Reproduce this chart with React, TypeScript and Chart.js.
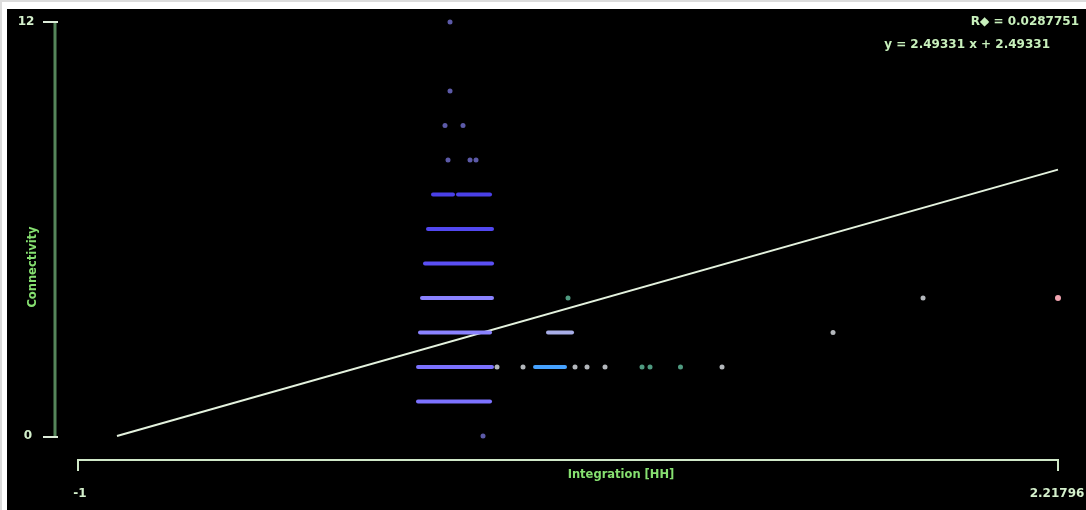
import React, { useEffect, useRef } from "react";
import { Chart, registerables } from "chart.js";

Chart.register(...registerables);

// ---- data ----
const xMin = -1;
const xMax = 2.21796;
const yMin = 0;
const yMax = 12;
const xTickLabels = ["-1", "2.21796"];
const yTickLabels = ["0", "12"];
const xTitle = "Integration [HH]";
const yTitle = "Connectivity";
const rSquaredText = "R\u25C6 = 0.0287751";
const equationText = "y = 2.49331 x + 2.49331";

// dense horizontal runs of overlapping points (one run per entry)
const stripeRow = [1, 2, 3, 4, 5, 6, 7, 7, 3, 2];
const stripeFrom = [0.1165, 0.1165, 0.1231, 0.1296, 0.1395, 0.1493, 0.1657, 0.2478, 0.5434, 0.5007];
const stripeTo = [0.3529, 0.3595, 0.3529, 0.3595, 0.3595, 0.3595, 0.2314, 0.3529, 0.6222, 0.5992];

// isolated points
const upperX = [0.2216, 0.2216, 0.2051, 0.2642, 0.215, 0.2872, 0.3069, 0.3299];
const upperY = [12, 10, 9, 9, 8, 8, 8, 0];
const grayX = [0.3759, 0.4613, 0.632, 0.6714, 0.7305, 1.1147, 1.4792, 1.7748];
const grayY = [2, 2, 2, 2, 2, 2, 3, 4];
const tealX = [0.852, 0.8783, 0.9783, 0.609];
const tealY = [2, 2, 2, 4];
const redX = [2.21796];
const redY = [4];

// fitted line as drawn
const regX = [-0.872, 2.21796];
const regY = [0, 7.72];

// ---- styles ----
const stripeColors = [
  "#7c72ff", "#7c72ff", "#8a82ff", "#8a82ff", "#5a4ff5", "#5248f0", "#4a40e8", "#4a40e8", "#a8aee8", "#46a2ff",
];

const pts = (xs: number[], ys: number[]) => xs.map((x, i) => ({ x, y: ys[i] }));

export default function App() {
  const ref = useRef<HTMLCanvasElement>(null);

  useEffect(() => {
    if (!ref.current) return;
    const stripeSets = stripeRow.map((r, i) => ({
      label: "run" + i,
      data: [
        { x: stripeFrom[i], y: r },
        { x: stripeTo[i], y: r },
      ],
      showLine: true,
      borderColor: stripeColors[i],
      borderWidth: 4,
      borderCapStyle: "round" as const,
      pointRadius: 0,
      clip: false as any,
    }));

    const axesPlugin = {
      id: "customAxes",
      afterDraw(chart: any) {
        const { ctx } = chart;
        const xs = chart.scales.x;
        const ys = chart.scales.y;
        const y0 = ys.getPixelForValue(yMin);
        const y12 = ys.getPixelForValue(yMax);
        const x0 = xs.getPixelForValue(xMin);
        const x1 = xs.getPixelForValue(xMax);
        ctx.save();
        // y axis
        ctx.strokeStyle = "#55855a";
        ctx.lineWidth = 3;
        ctx.beginPath();
        ctx.moveTo(48, y12);
        ctx.lineTo(48, y0);
        ctx.stroke();
        ctx.strokeStyle = "#dcebd8";
        ctx.lineWidth = 2;
        ctx.beginPath();
        ctx.moveTo(36, y12);
        ctx.lineTo(51, y12);
        ctx.moveTo(36, y0 + 1);
        ctx.lineTo(51, y0 + 1);
        ctx.stroke();
        // x axis
        const ax = 451;
        ctx.strokeStyle = "#d0e8c8";
        ctx.lineWidth = 2;
        ctx.beginPath();
        ctx.moveTo(x0, ax + 11);
        ctx.lineTo(x0, ax);
        ctx.lineTo(x1, ax);
        ctx.lineTo(x1, ax + 11);
        ctx.stroke();
        // labels
        ctx.font = "bold 12px 'DejaVu Sans'";
        ctx.fillStyle = "#d4f0cc";
        ctx.textBaseline = "middle";
        ctx.textAlign = "center";
        ctx.fillText(yTickLabels[1], 19, y12);
        ctx.fillText(yTickLabels[0], 21, y0);
        ctx.fillText(xTickLabels[0], x0 + 2, 485);
        ctx.fillText(xTickLabels[1], x1 - 1, 485);
        // titles
        ctx.fillStyle = "#86e070";
        ctx.font = "bold 11.5px 'DejaVu Sans'";
        ctx.fillText(xTitle, 614, 466);
        ctx.save();
        ctx.translate(26, 258);
        ctx.rotate(-Math.PI / 2);
        ctx.fillText(yTitle, 0, 0);
        ctx.restore();
        // fit text
        ctx.fillStyle = "#c8f0bc";
        ctx.font = "bold 12px 'DejaVu Sans'";
        ctx.textAlign = "right";
        ctx.fillText(rSquaredText, 1072, 13);
        ctx.fillText(equationText, 1043, 36);
        ctx.restore();
      },
    };

    const chart = new Chart(ref.current, {
      type: "scatter",
      data: {
        datasets: [
          ...stripeSets,
          {
            label: "upper",
            data: pts(upperX, upperY),
            backgroundColor: "#5c5aa8",
            pointRadius: 2.5,
            borderWidth: 0,
            clip: false as any,
          },
          {
            label: "gray",
            data: pts(grayX, grayY),
            backgroundColor: "#b4b8bc",
            pointRadius: 2.5,
            borderWidth: 0,
            clip: false as any,
          },
          {
            label: "teal",
            data: pts(tealX, tealY),
            backgroundColor: "#4f9a80",
            pointRadius: 2.5,
            borderWidth: 0,
            clip: false as any,
          },
          {
            label: "red",
            data: pts(redX, redY),
            backgroundColor: "#f0a4b0",
            pointRadius: 3,
            borderWidth: 0,
            clip: false as any,
          },
          {
            label: "fit",
            data: pts(regX, regY),
            showLine: true,
            borderColor: "#e4f2de",
            borderWidth: 2,
            pointRadius: 0,
            clip: false as any,
          },
        ],
      },
      options: {
        animation: false,
        responsive: true,
        maintainAspectRatio: false,
        layout: { padding: { left: 71, right: 28, top: 13, bottom: 74 } },
        plugins: { legend: { display: false }, tooltip: { enabled: false } },
        scales: {
          x: { type: "linear", min: xMin, max: xMax, display: false },
          y: { type: "linear", min: yMin, max: yMax, display: false },
        },
      },
      plugins: [axesPlugin],
    });
    return () => chart.destroy();
  }, []);

  return (
    <div
      style={{
        position: "fixed",
        left: 0,
        top: 0,
        right: 0,
        bottom: 0,
        background: "#ffffff",
        borderTop: "2px solid #dcdcdc",
        borderLeft: "2px solid #dcdcdc",
      }}
    >
      <div
        style={{
          position: "absolute",
          left: 5,
          top: 7,
          right: 0,
          bottom: 0,
          background: "#000000",
        }}
      >
        <canvas ref={ref} />
      </div>
    </div>
  );
}
